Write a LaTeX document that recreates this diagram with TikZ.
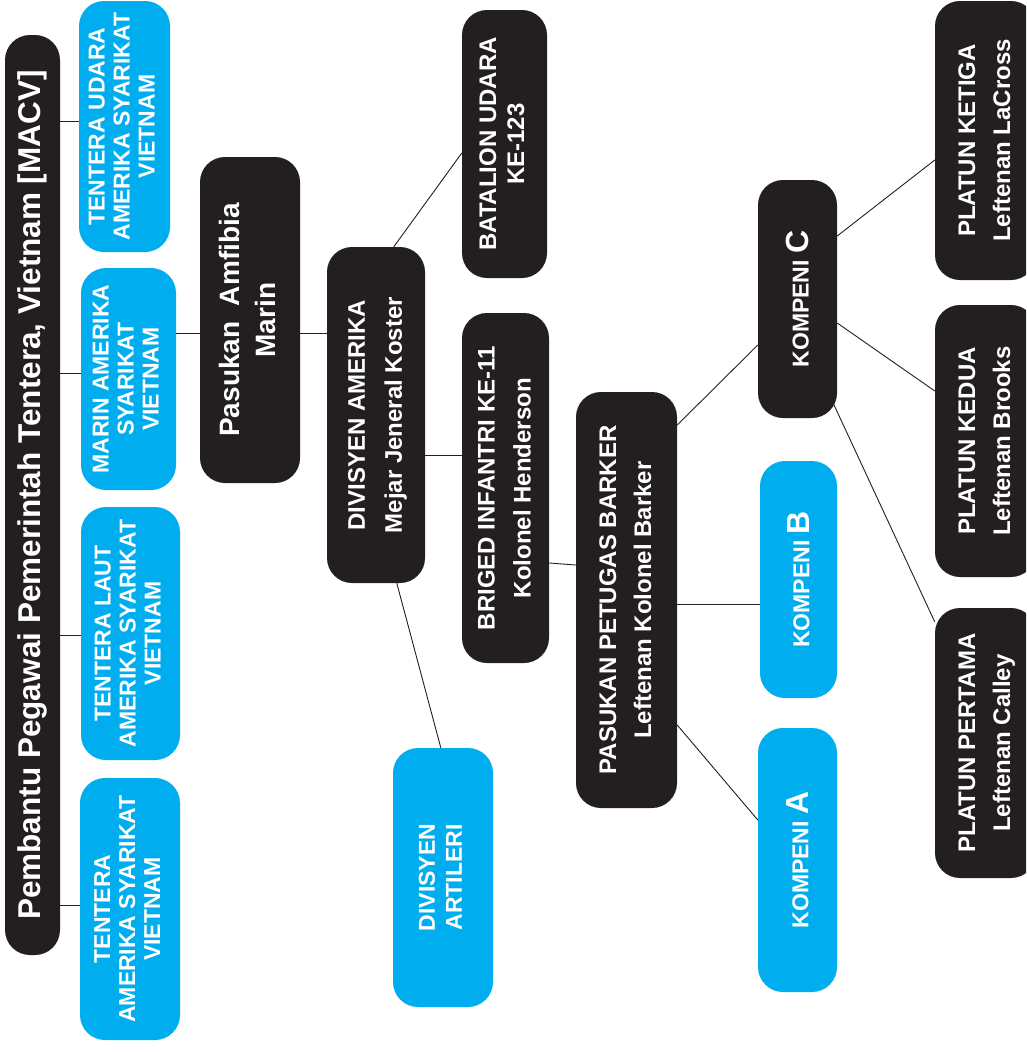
\documentclass[tikz,border=0pt]{standalone}
\usepackage{fontspec}
\setmainfont{Liberation Sans}
\usetikzlibrary{calc}
\definecolor{nblack}{HTML}{231F20}
\definecolor{nblue}{HTML}{00AEEF}
\definecolor{lineC}{HTML}{231F20}
\newcommand{\vt}[3][24]{\rotatebox{90}{\fontsize{#1}{#2}\selectfont\begin{tabular}{@{}c@{}}#3\end{tabular}}}
\tikzset{
  box/.style={rounded corners=25pt, inner sep=0pt, text=white, font=\bfseries},
  blk/.style={box, fill=nblack},
  blu/.style={box, fill=nblue},
  link/.style={draw=lineC, line width=0.9pt},
}
\begin{document}
\begin{tikzpicture}[x=1pt,y=-1pt]
\useasboundingbox (0,0) rectangle (1026,1052);
\clip (0,0) rectangle (1026,1052);
% column 1
\node[blk, minimum width=55pt, minimum height=920pt] (macv) at (32.5,495)
  {\rotatebox{90}{\fontsize{31.5}{36}\selectfont Pembantu Pegawai Pemerintah Tentera, Vietnam [MACV]}};
% column 2 blue
\node[blu, minimum width=91pt, minimum height=251pt] (udara) at (124.5,126.5)
  {\vt[23]{25}{TENTERA UDARA\\AMERIKA SYARIKAT\\VIETNAM}};
\node[blu, minimum width=95pt, minimum height=222pt] (marin) at (128.5,379)
  {\vt[23]{25}{MARIN AMERIKA\\SYARIKAT\\VIETNAM}};
\node[blu, minimum width=99pt, minimum height=253pt] (laut) at (130.5,633.5)
  {\vt[23]{25}{TENTERA LAUT\\AMERIKA SYARIKAT\\VIETNAM}};
\node[blu, minimum width=100pt, minimum height=262pt] (tentera) at (130,909)
  {\vt[23]{25}{TENTERA\\AMERIKA SYARIKAT\\VIETNAM}};
% column 3
\node[blk, minimum width=100pt, minimum height=326pt] (amfibia) at (250,320)
  {\rotatebox{90}{\fontsize{28}{36}\selectfont\begin{tabular}{@{}c@{}}Pasukan\ \ Amfibia\\Marin\end{tabular}}};
% column 4
\node[blk, minimum width=98pt, minimum height=336pt] (divam) at (376,415)
  {\vt{37}{DIVISYEN AMERIKA\\Mejar Jeneral Koster}};
\node[blu, minimum width=100pt, minimum height=259pt] (artileri) at (443,877.5)
  {\vt[23]{27}{DIVISYEN\\ARTILERI}};
% column 5
\node[blk, minimum width=85pt, minimum height=268pt] (batalion) at (504.5,144)
  {\vt{28}{BATALION UDARA\\KE-123}};
\node[blk, minimum width=87pt, minimum height=350pt] (briged) at (505.5,488)
  {\vt{36}{BRIGED INFANTRI KE-11\\Kolonel Henderson}};
% column 6
\node[blk, minimum width=101pt, minimum height=416pt] (barker) at (626.5,600)
  {\vt{35}{PASUKAN PETUGAS BARKER\\Leftenan Kolonel Barker}};
% column 7
\node[blk, minimum width=79pt, minimum height=238pt] (kompC) at (797.5,299)
  {\rotatebox{90}{\fontsize{23}{27}\selectfont KOMPENI {\fontsize{32}{34}\selectfont C}}};
\node[blu, minimum width=77pt, minimum height=237pt] (kompB) at (798.5,579.5)
  {\rotatebox{90}{\fontsize{23}{27}\selectfont KOMPENI {\fontsize{32}{34}\selectfont B}}};
\node[blu, minimum width=79pt, minimum height=264pt] (kompA) at (797.5,860)
  {\rotatebox{90}{\fontsize{23}{27}\selectfont KOMPENI {\fontsize{32}{34}\selectfont A}}};
% column 8
\node[blk, minimum width=101pt, minimum height=279pt] (ketiga) at (985.5,140.5)
  {\vt{35}{PLATUN KETIGA\\Leftenan LaCross}};
\node[blk, minimum width=101pt, minimum height=272pt] (kedua) at (985.5,441)
  {\vt{35}{PLATUN KEDUA\\Leftenan Brooks}};
\node[blk, minimum width=101pt, minimum height=270pt] (pertama) at (985.5,743)
  {\vt{35}{PLATUN PERTAMA\\Leftenan Calley}};
% connectors
\draw[link] (macv.east |- 0,121) -- (udara.west |- 0,121);
\draw[link] (macv.east |- 0,373) -- (marin.west |- 0,373);
\draw[link] (macv.east |- 0,635) -- (laut.west |- 0,635);
\draw[link] (macv.east |- 0,905) -- (tentera.west |- 0,905);
\draw[link] (marin.east |- 0,333) -- (amfibia.west |- 0,333);
\draw[link] (amfibia.east |- 0,333) -- (divam.west |- 0,333);
\draw[link] ($(divam.north west)+(67,0)$) -- (batalion.west |- 0,153);
\draw[link] (divam.east |- 0,455) -- (briged.west |- 0,455);
\draw[link] ($(divam.south west)+(70,0)$) -- ($(artileri.north west)+(48,0)$);
\draw[link] (briged.east |- 0,563) -- (barker.west |- 0,565);
\draw[link] (barker.east |- 0,425) -- (kompC.west |- 0,345);
\draw[link] (barker.east |- 0,604) -- (kompB.west |- 0,604);
\draw[link] (barker.east |- 0,725) -- (kompA.west |- 0,820);
\draw[link] (kompC.east |- 0,236) -- (ketiga.west |- 0,160);
\draw[link] (kompC.east |- 0,323) -- (kedua.west |- 0,391);
\draw[link] ($(kompC.south east)+(-4,-15)$) -- (pertama.west |- 0,622);
\end{tikzpicture}
\end{document}
